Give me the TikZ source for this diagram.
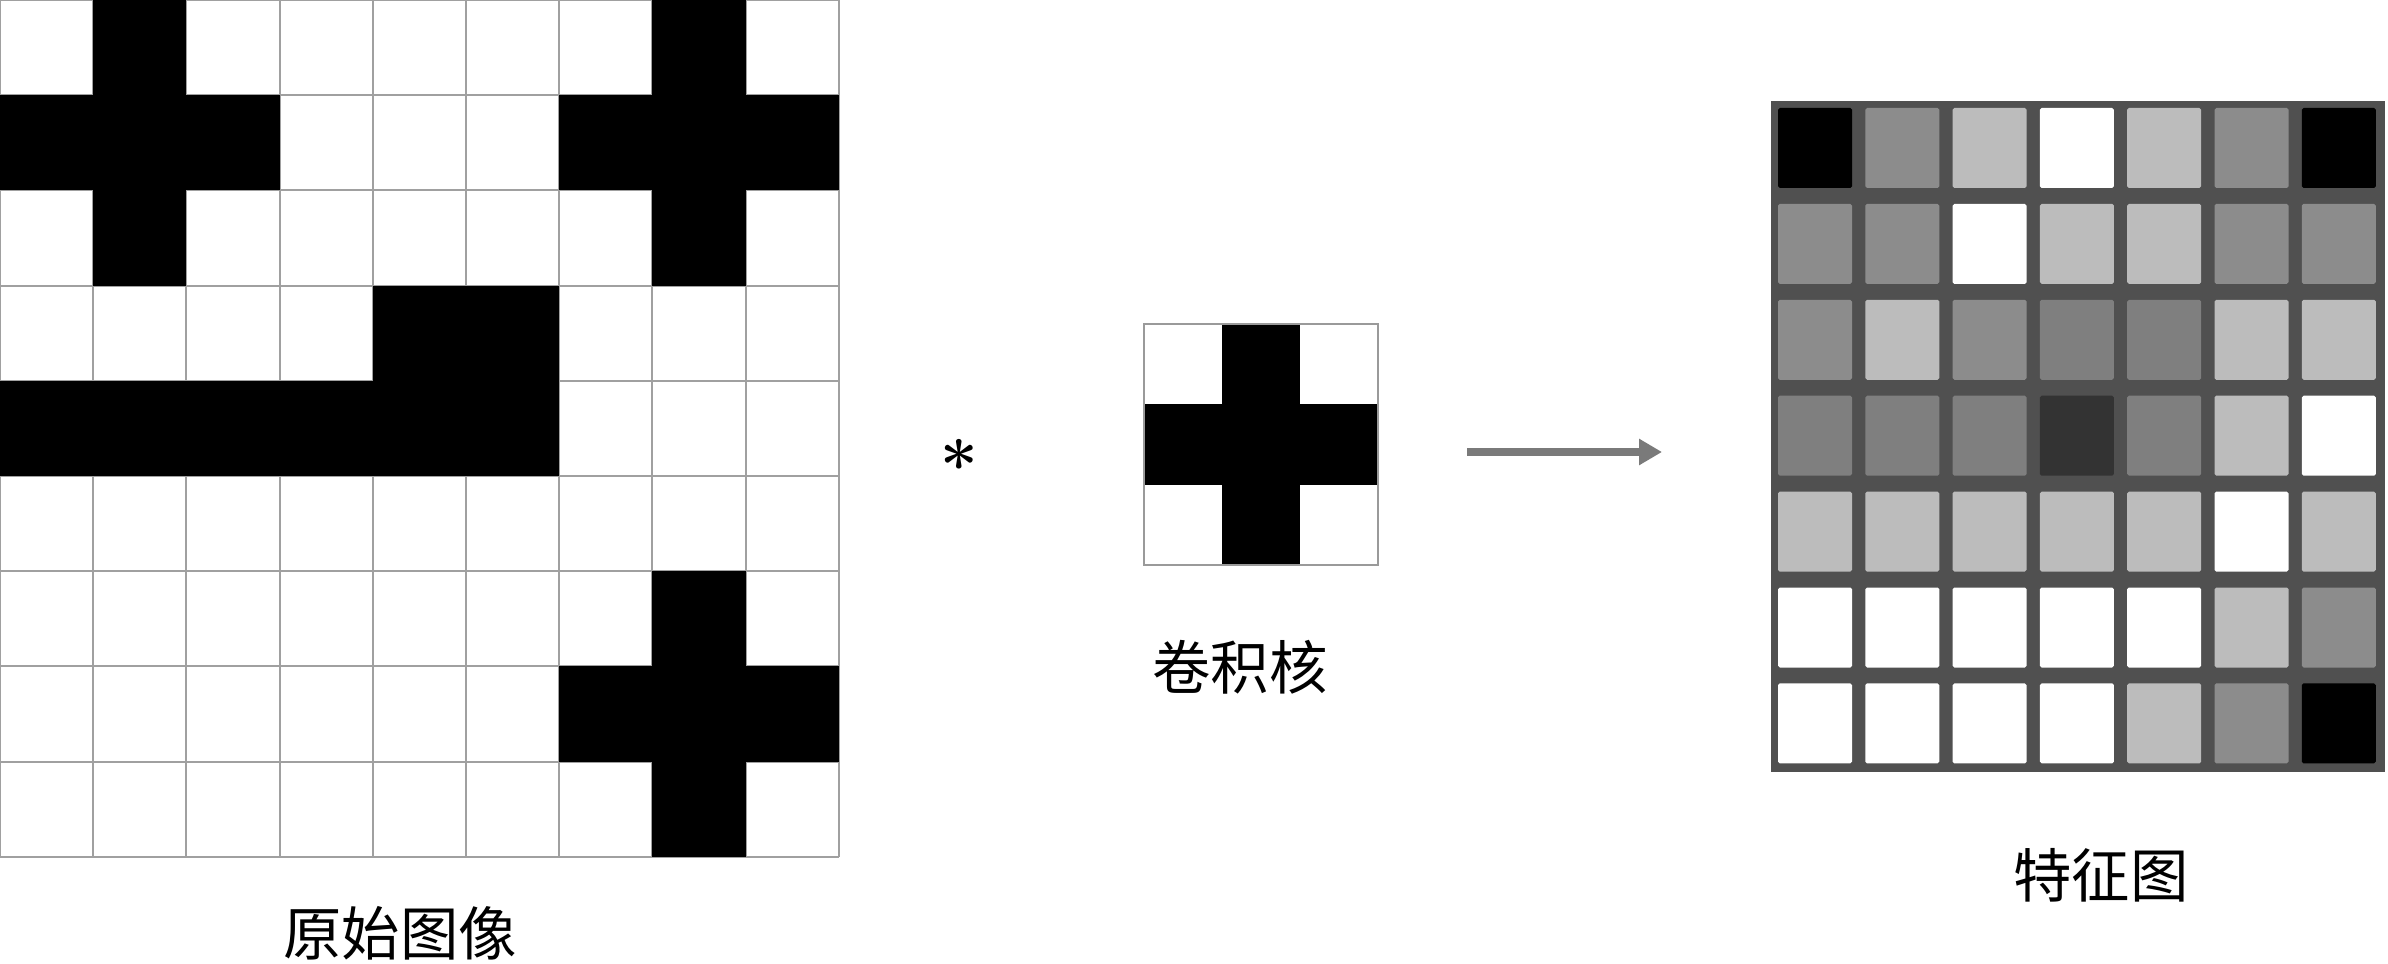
\documentclass[tikz,border=0pt]{standalone}
\usepackage{fontspec}
\newfontfamily\cjk{Noto Sans CJK SC}
\usetikzlibrary{arrows.meta}
\definecolor{gridgray}{HTML}{A0A0A0}
\definecolor{kerngray}{HTML}{9A9A9A}
\definecolor{fmbg}{HTML}{505050}
\definecolor{arrowgray}{HTML}{7A7A7A}
\definecolor{lvA}{HTML}{000000}
\definecolor{lvB}{HTML}{333333}
\definecolor{lvC}{HTML}{7F7F7F}
\definecolor{lvD}{HTML}{8C8C8C}
\definecolor{lvE}{HTML}{BCBCBC}
\definecolor{lvW}{HTML}{FFFFFF}
\begin{document}
\begin{tikzpicture}[x=0.01cm,y=-0.01cm,
  cjklab/.style={font=\cjk\fontsize{16.6pt}{20pt}\selectfont, inner sep=0pt},
  gline/.style={draw=gridgray, line width=0.6pt},
  blackcell/.style={fill=black},
  fmcell/.style={rounded corners=0.5pt}]
\useasboundingbox (0,0) rectangle (2388,964);
\fill[white] (0,0) rectangle (2388,964);

% ---------- original image 9x9 ----------
\foreach \i in {0,...,9} {
  \draw[gline] ({\i*93.2},0) -- ({\i*93.2},857);
  \draw[gline] (0,{\i*95.2}) -- (839,{\i*95.2});
}
\foreach \r/\c in {0/1,0/7,
                   1/0,1/1,1/2,1/6,1/7,1/8,
                   2/1,2/7,
                   3/4,3/5,
                   4/0,4/1,4/2,4/3,4/4,4/5,
                   6/7,
                   7/6,7/7,7/8,
                   8/7}
  \fill[blackcell] ({\c*93.2},{\r*95.2}) rectangle ++(93.2,95.2);
\node[cjklab] (orig) at (400,933) {原始图像};

% ---------- asterisk ----------
\node[inner sep=0pt, font=\bfseries\fontsize{19pt}{19pt}\selectfont] (ast) at (959,464) {*};

% ---------- kernel 3x3 ----------
\foreach \r/\c in {0/1,1/0,1/1,1/2,2/1}
  \fill[blackcell] ({1144+\c*78},{324+\r*80.3}) rectangle ++(78,80.3);
\node[draw=kerngray, line width=0.8pt, minimum width=2.34cm, minimum height=2.41cm, inner sep=0pt] (kernel) at (1261,444.5) {};
\node[cjklab] (kern) at (1240,667) {卷积核};

% ---------- arrow ----------
\coordinate (arrS) at (1467,452);
\coordinate (arrE) at (1662,452);
\draw[arrowgray, line width=2.3pt, -{Triangle[length=0.23cm,width=0.25cm]}] (arrS) -- (arrE);

% ---------- feature map 7x7 ----------
\node[fill=fmbg, minimum width=6.14cm, minimum height=6.71cm, inner sep=0pt] (fmap) at (2078,436.5) {};
\foreach \row [count=\j from 0] in {{A,D,E,W,E,D,A},
                                    {D,D,W,E,E,D,D},
                                    {D,E,D,C,C,E,E},
                                    {C,C,C,B,C,E,W},
                                    {E,E,E,E,E,W,E},
                                    {W,W,W,W,W,E,D},
                                    {W,W,W,W,E,D,A}} {
  \foreach \c [count=\i from 0] in \row {
    \fill[fmcell, lv\c] ({1778+\i*87.3},{108+\j*95.9}) rectangle ++(74,80);
  }
}
\node[cjklab] (feat) at (2101,875) {特征图};
\end{tikzpicture}
\end{document}
